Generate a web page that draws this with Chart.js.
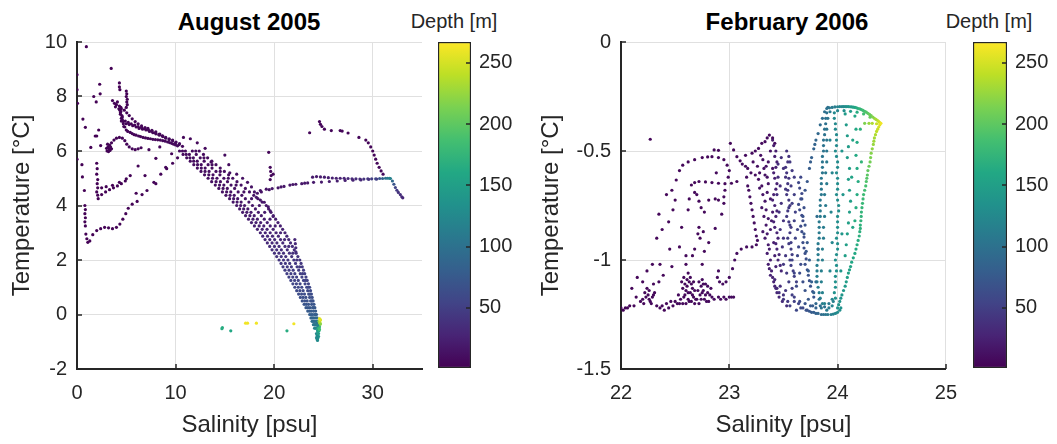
<!DOCTYPE html>
<html>
<head>
<meta charset="utf-8">
<title>T-S diagrams</title>
<script src="https://cdn.jsdelivr.net/npm/chart.js@4.4.1/dist/chart.umd.min.js"></script>
<style>
  body { margin: 0; background: #fff; width: 1057px; height: 444px; position: relative; overflow: hidden;
         font-family: "Liberation Sans", Arial, sans-serif; }
  canvas { position: absolute; top: 0; }
  .ttl { position: absolute; top: 8px; font-weight: bold; font-size: 24px; line-height: 28px; color: #000;
         transform: translateX(-50%); white-space: nowrap; }
  .cbt { position: absolute; top: 9px; font-size: 20px; line-height: 24px; color: #262626;
         transform: translateX(-50%); white-space: nowrap; }
</style>
</head>
<body>
<div class="ttl" style="left:249px">August 2005</div>
<div class="cbt" style="left:454px">Depth [m]</div>
<div class="ttl" style="left:787px">February 2006</div>
<div class="cbt" style="left:989px">Depth [m]</div>
<canvas id="aug" width="428" height="444" style="left:0px"></canvas>
<canvas id="augBar" width="90" height="444" style="left:437px"></canvas>
<canvas id="feb" width="440" height="444" style="left:529px"></canvas>
<canvas id="febBar" width="85" height="444" style="left:972px"></canvas>
<script>
// points are [salinity psu, temperature degC, depth m]

// August 2005
const augBandL = [
  [10.4,6.0,8],[10.76,5.875,8],[11.13,5.75,9],[11.49,5.625,9],[11.85,5.5,10],[12.21,5.375,10],[12.58,5.25,11],
  [12.94,5.125,11],[13.3,5.0,12],[13.66,4.875,12],[14.03,4.75,13],[14.39,4.625,13],[14.75,4.5,14],[15.11,4.375,15],
  [15.48,4.25,16],[15.84,4.125,17],[16.2,4.0,18],[16.5,3.875,19],[16.8,3.75,20],[17.1,3.625,21],[17.4,3.5,22],
  [17.7,3.375,24],[18.0,3.25,25],[18.3,3.125,27],[18.6,3.0,28],[18.84,2.875,30],[19.08,2.75,31],[19.31,2.625,33],
  [19.55,2.5,35],[19.79,2.375,36],[20.03,2.25,38],[20.26,2.125,40],[20.5,2.0,42],[20.7,1.875,44],[20.9,1.75,46],
  [21.1,1.625,48],[21.3,1.5,50],[21.5,1.375,52],[21.7,1.25,54],[21.9,1.125,56],[22.1,1.0,58],[22.29,0.875,60],
  [22.48,0.75,63],[22.66,0.625,65],[22.85,0.5,68],[23.04,0.375,71],[23.23,0.25,74],[23.41,0.125,77],[23.6,0.0,80],
  [23.73,-0.125,86],[23.85,-0.25,95],[23.98,-0.375,105],[24.1,-0.5,120]
];
const augBandL2 = [
  [10.7,6.0,8],[11.08,5.875,8],[11.46,5.75,9],[11.84,5.625,9],[12.23,5.5,10],[12.61,5.375,10],[12.99,5.25,11],
  [13.37,5.125,11],[13.75,5.0,12],[14.11,4.875,12],[14.46,4.75,13],[14.82,4.625,13],[15.18,4.5,14],[15.53,4.375,15],
  [15.89,4.25,16],[16.24,4.125,17],[16.6,4.0,18],[16.91,3.875,19],[17.23,3.75,20],[17.54,3.625,21],[17.85,3.5,22],
  [18.16,3.375,24],[18.48,3.25,25],[18.79,3.125,27],[19.1,3.0,28],[19.33,2.875,30],[19.56,2.75,31],[19.79,2.625,33],
  [20.03,2.5,35],[20.26,2.375,36],[20.49,2.25,38],[20.72,2.125,40],[20.95,2.0,42],[21.14,1.875,44],[21.33,1.75,46],
  [21.51,1.625,48],[21.7,1.5,50],[21.89,1.375,52],[22.08,1.25,54],[22.26,1.125,56],[22.45,1.0,58],[22.61,0.875,60],
  [22.78,0.75,63],[22.94,0.625,65],[23.1,0.5,68],[23.26,0.375,71],[23.43,0.25,74],[23.59,0.125,77],[23.75,0.0,80],
  [23.86,-0.125,86],[23.98,-0.25,95],[24.09,-0.375,105],[24.2,-0.5,120]
];
const augBandM = [
  [11.0,6.0,8],[11.8,5.75,9],[12.6,5.5,10],[13.4,5.25,11],[14.2,5.0,12],[14.9,4.75,13],[15.6,4.5,14],[16.3,4.25,16],
  [17.0,4.0,18],[17.65,3.75,20],[18.3,3.5,22],[18.95,3.25,25],[19.6,3.0,28],[20.05,2.75,31],[20.5,2.5,35],
  [20.95,2.25,38],[21.4,2.0,42],[21.75,1.75,46],[22.1,1.5,50],[22.45,1.25,54],[22.8,1.0,58],[23.08,0.75,63],
  [23.35,0.5,68],[23.63,0.25,74],[23.9,0.0,80],[24.1,-0.25,95],[24.3,-0.5,120],
  [11.4,5.875,8],[12.2,5.625,9],[13.0,5.375,10],[13.8,5.125,11],[14.55,4.875,12],[15.25,4.625,13],[15.95,4.375,15],
  [16.65,4.125,17],[17.33,3.875,19],[17.98,3.625,21],[18.63,3.375,24],[19.28,3.125,27],[19.83,2.875,30],[20.28,2.625,33],
  [20.73,2.375,36],[21.18,2.125,40],[21.58,1.875,44],[21.93,1.625,48],[22.28,1.375,52],[22.63,1.125,56],[22.94,0.875,60],
  [23.22,0.625,65],[23.49,0.375,71],[23.77,0.125,77],[24.0,-0.125,86],[24.2,-0.375,105],
  [11.7,6.0,8],[12.5,5.75,9],[13.3,5.5,10],[14.1,5.25,11],[14.9,5.0,12],[15.63,4.75,13],[16.35,4.5,14],[17.08,4.25,16],
  [17.8,4.0,18],[18.4,3.75,20],[19.0,3.5,22],[19.6,3.25,25],[20.2,3.0,28],[20.65,2.75,31],[21.1,2.5,35],
  [21.55,2.25,38],[22.0,2.0,42],[22.33,1.75,46],[22.65,1.5,50],[22.98,1.25,54],[23.3,1.0,58],[23.5,0.75,63],
  [23.7,0.5,68],[23.9,0.25,74],[24.1,0.0,80],[24.25,-0.25,100],
  [12.1,5.875,8],[12.9,5.625,9],[13.7,5.375,10],[14.5,5.125,11],[15.27,4.875,12],[15.99,4.625,13],[16.72,4.375,15],
  [17.44,4.125,17],[18.1,3.875,19],[18.7,3.625,21],[19.3,3.375,24],[19.9,3.125,27],[20.43,2.875,30],[20.88,2.625,33],
  [21.33,2.375,36],[21.78,2.125,40],[22.17,1.875,44],[22.49,1.625,48],[22.82,1.375,52],[23.14,1.125,56],[23.4,0.875,60],
  [23.6,0.625,65],[23.8,0.375,71],[24.0,0.125,77],[24.18,-0.125,88]
];
const augBandR = [
  [12.4,6.0,8],[12.83,5.875,8],[13.25,5.75,9],[13.68,5.625,9],[14.1,5.5,10],[14.53,5.375,10],[14.95,5.25,11],
  [15.38,5.125,11],[15.8,5.0,12],[16.23,4.875,12],[16.65,4.75,13],[17.08,4.625,13],[17.5,4.5,14],[17.93,4.375,15],
  [18.35,4.25,16],[18.78,4.125,17],[19.2,4.0,18],[19.44,3.875,19],[19.68,3.75,20],[19.91,3.625,21],[20.15,3.5,22],
  [20.39,3.375,24],[20.63,3.25,25],[20.86,3.125,27],[21.1,3.0,28],[21.29,2.875,30],[21.48,2.75,31],[21.66,2.625,33],
  [21.85,2.5,35],[22.04,2.375,36],[22.23,2.25,38],[22.41,2.125,40],[22.6,2.0,42],[22.73,1.875,44],[22.85,1.75,46],
  [22.98,1.625,48],[23.1,1.5,50],[23.23,1.375,52],[23.35,1.25,54],[23.48,1.125,56],[23.6,1.0,58],[23.69,0.875,60],
  [23.78,0.75,63],[23.86,0.625,65],[23.95,0.5,68],[24.04,0.375,71],[24.13,0.25,74],[24.21,0.125,77],[24.3,0.0,80],
  [24.35,-0.125,90],[24.4,-0.25,100],
  [12.05,6.0,8],[12.88,5.75,9],[13.7,5.5,10],[14.53,5.25,11],[15.35,5.0,12],[16.14,4.75,13],[16.93,4.5,14],
  [17.71,4.25,16],[18.5,4.0,18],[19.04,3.75,20],[19.58,3.5,22],[20.11,3.25,25],[20.65,3.0,28],[21.06,2.75,31],
  [21.48,2.5,35],[21.89,2.25,38],[22.3,2.0,42],[22.59,1.75,46],[22.88,1.5,50],[23.16,1.25,54],[23.45,1.0,58],
  [23.64,0.75,63],[23.83,0.5,68],[24.01,0.25,74],[24.2,0.0,80],
  [15.5,5.2,12],[16.2,5.15,12],[16.8,5.0,13],[17.3,4.85,13],[17.7,4.68,14],[18.0,4.5,15],[18.3,4.45,15],[18.7,4.5,15],
  [18.2,4.3,16],[18.6,4.2,17],[19.0,4.12,18],[19.4,3.95,19],[19.6,3.8,20],[19.9,3.6,21],
  [22.1,2.75,30],[22.15,2.6,32],[22.2,2.45,34],[22.2,2.3,36]
];
const augUpper = [
  [4.3,7.65,3],[4.35,7.5,3],[4.4,7.35,3],[4.5,7.2,4],[4.7,7.08,4],[5.0,7.0,4],[5.3,6.97,4],[5.65,6.93,5],[6.0,6.88,5],
  [6.3,6.83,5],[6.65,6.8,5],[7.0,6.77,5],[7.35,6.72,6],[7.7,6.67,6],[8.0,6.63,6],[8.35,6.58,6],[8.7,6.53,6],[9.0,6.47,7],
  [9.35,6.42,7],[9.7,6.38,7],[10.0,6.3,7],[10.35,6.23,8],[10.7,6.17,8],
  [4.7,7.0,4],[4.85,6.88,4],[5.0,6.77,4],[5.4,6.68,5],[5.8,6.6,5],[6.25,6.55,5],[6.7,6.5,5],[7.2,6.46,6],[7.7,6.43,6],
  [8.2,6.41,6],[8.7,6.38,6],[9.2,6.33,7],[9.6,6.28,7],[10.0,6.22,7],
  [4.8,7.5,3],[5.05,7.4,3],[5.3,7.3,4],[5.6,7.18,4],[5.9,7.08,4],[6.2,7.0,5],[6.55,6.92,5],[6.9,6.86,5],[7.2,6.83,5],
  [7.6,6.76,6],[8.0,6.7,6],[8.4,6.62,6],[8.7,6.55,6],
  [4.6,7.25,4],[4.9,7.1,4],[5.2,7.05,4],[5.5,7.0,4],[5.85,6.95,5],[6.2,6.9,5],[6.55,6.86,5],[6.9,6.82,5],[7.25,6.77,6],
  [7.6,6.72,6],[7.95,6.67,6],[8.3,6.61,6],[8.65,6.56,6],[9.0,6.5,7],[9.35,6.45,7],[9.7,6.4,7],[10.05,6.33,7],[10.4,6.27,8],
  [4.4,7.4,3],[4.5,7.1,4],[4.75,6.9,4],[5.15,6.72,4],[5.6,6.64,5],[6.0,6.58,5],[6.45,6.53,5],[6.95,6.48,5],[7.45,6.45,6],
  [7.95,6.42,6],[8.45,6.4,6],[8.95,6.36,7],[9.4,6.31,7],[9.8,6.25,7],[10.2,6.19,8],
  [4.45,7.45,3],[4.55,7.3,3],[4.6,7.15,4],[4.25,7.55,3],[4.45,7.6,3],
  [5.0,8.2,2],[5.05,8.1,2],[5.0,8.0,2],[5.1,7.9,3],[5.05,7.8,3],[5.1,7.7,3],[5.0,7.6,3],
  [4.3,8.5,2],[4.3,8.35,2],[4.35,8.25,2],[3.6,7.85,3],[3.8,7.75,3],[4.0,7.7,3],[3.9,7.62,3],[4.1,7.8,3],[4.5,7.55,3],
  [3.0,6.1,3],[3.05,6.0,3],[3.2,5.98,3],[3.35,6.02,3],[3.5,6.08,3],[3.15,6.15,3],[3.3,6.22,3],[3.5,6.3,3],[3.75,6.4,3],
  [4.0,6.47,3],[4.3,6.5,3],[4.6,6.47,4],[4.85,6.38,4],[5.05,6.25,4],[5.3,6.15,4],[5.6,6.08,4],[5.9,6.05,4],[6.2,6.08,5],
  [6.5,6.12,5],[3.1,6.25,3],[3.25,6.08,3],[3.4,6.15,3]
];
const augWest = [
  [0.0,8.8,2],[0.0,8.25,2],[0.05,7.75,2],[0.95,9.83,2],[3.47,9.03,2],[2.3,8.45,2],[2.35,8.1,2],[1.7,8.0,2],[1.95,7.8,2],
  [0.6,7.17,2],[0.85,6.87,2],[1.85,6.55,2],[1.4,6.13,2],[0.0,5.7,2],[2.2,6.77,2],[2.0,6.55,2],[2.4,6.2,3],
  [0.5,5.5,2],[0.55,5.05,2],[0.75,4.55,2],[0.8,4.0,2],[0.85,3.85,2],[0.8,3.7,2],[0.85,3.55,2],[0.8,3.4,2],[0.85,3.25,2],
  [0.9,2.95,2],[1.0,2.78,2],[1.1,2.65,2],[1.3,2.7,2],[1.6,2.93,2],[2.0,3.08,2],[2.4,3.15,2],[2.8,3.2,2],[3.2,3.18,3],
  [3.6,3.15,3],[4.0,3.2,3],[4.35,3.32,3],[4.65,3.5,3],[4.95,3.7,3],[5.2,3.9,3],[5.6,4.05,3],[6.1,4.15,3],[6.6,4.4,3],
  [7.1,4.55,4],[7.8,4.85,4],[8.5,5.15,4],[9.1,5.35,4],[9.7,5.55,4],[10.2,5.75,5],
  [2.0,5.55,2],[2.05,5.35,2],[2.0,5.15,2],[2.1,4.95,2],[2.05,4.8,2],[2.1,4.65,2],[2.0,4.5,2],[2.1,4.38,2],[2.15,4.25,2],
  [2.5,4.4,2],[2.9,4.5,2],[3.3,4.58,2],[3.7,4.65,2],[4.1,4.72,3],[4.5,4.8,3],[4.9,4.9,3],
  [2.5,4.65,2],[2.96,4.69,2],[3.6,4.74,2],[4.3,4.85,3],[5.0,4.98,3],[5.4,5.1,3],
  [6.2,5.45,3],[8.0,5.73,4],[9.0,5.4,4],[6.9,5.1,3],[6.0,4.45,3],[8.0,4.8,4],[9.6,5.9,4],[8.4,6.15,5],[7.3,6.05,5],
  [10.8,6.5,6],[11.5,6.45,7],[12.2,6.3,7],[13.0,6.1,8],[15.0,5.85,9],[15.4,5.5,9],[13.6,5.6,8]
];
const augEast = [
  [18.6,4.55,15],[19.2,4.6,15],[19.8,4.62,16],[20.4,4.65,16],[21.0,4.7,17],[21.6,4.75,17],[22.2,4.78,18],[22.8,4.8,18],
  [23.4,4.83,19],[24.0,4.85,20],[19.5,4.58,15],[20.7,4.68,16],[21.9,4.77,17],[23.1,4.82,18],
  [23.9,5.04,20],[24.3,5.06,20],[24.7,5.05,21],[25.1,5.04,22],[25.5,5.02,23],[25.9,5.01,24],[26.3,5.0,25],[26.7,5.0,26],
  [27.1,5.0,28],[27.5,4.99,30],[27.9,4.98,32],[28.3,4.98,34],[28.7,4.97,37],[29.1,4.97,40],[29.5,4.98,44],[29.9,4.98,50],
  [30.3,4.98,58],[30.7,4.99,70],[31.0,4.99,85],[31.3,5.0,100],[31.5,5.0,110],[31.7,5.0,115],[31.8,4.99,118],
  [24.8,4.86,20],[25.6,4.88,21],[26.4,4.9,23],[27.2,4.92,25],[28.0,4.93,28],[28.8,4.94,32],[29.6,4.96,38],[30.4,4.97,50],
  [32.0,4.9,90],[32.15,4.78,70],[32.3,4.66,55],[32.45,4.56,45],[32.6,4.48,40],[32.8,4.4,36],[32.95,4.32,33],[33.05,4.28,30],
  [29.3,6.4,5],[29.55,6.3,5],[29.8,6.15,5],[30.0,6.0,5],[30.15,5.85,5],[30.3,5.7,6],[30.45,5.55,6],[30.65,5.4,6],
  [30.85,5.27,7],[31.05,5.15,8],
  [24.6,7.08,4],[24.7,6.98,4],[24.85,6.9,4],[25.1,6.8,4],[25.8,6.75,4],[26.7,6.75,4],[26.9,6.73,4],[27.5,6.66,4],
  [28.6,6.5,5],[23.6,6.67,4],
  [19.45,5.95,5],[19.6,5.4,6],[19.65,5.25,6],[19.7,5.1,6],[19.6,4.95,7],[19.9,5.15,6]
];
const augDeep = [
  [24.3,-0.7,120],[24.4,-0.8,135],[24.35,-0.9,130],[24.4,-0.95,128],[24.5,-0.7,140],[24.4,-0.6,150],[24.45,-0.5,155],
  [24.5,-0.55,165],[24.55,-0.4,170],[24.6,-0.45,180],[24.5,-0.35,200],[24.6,-0.3,230],[24.7,-0.2,250],[24.6,-0.15,255],
  [24.35,-0.3,100],[24.4,-0.4,115],[24.45,-0.6,145],[24.5,-0.8,140],[24.45,-0.85,135],[24.4,-0.9,130],[24.55,-0.25,210],
  [24.65,-0.3,240],[24.65,-0.2,255],[24.7,-0.35,220],[24.55,-0.6,160],[24.35,-0.75,125],[24.3,-0.85,125],
  [24.45,-0.7,150],[24.55,-0.5,175],[24.6,-0.55,185],
  [14.75,-0.48,165],[14.7,-0.52,165],[15.6,-0.6,160],[17.1,-0.32,262],[17.3,-0.32,262],[18.2,-0.32,262],
  [21.3,-0.6,165],[22.0,-0.34,262]
];

// February 2006
const febShelf = [
  [22.0,-1.22,5],[22.04,-1.22,5],[22.08,-1.21,5],[22.12,-1.21,5],[22.2,-1.18,6],[22.22,-1.15,6],[22.25,-1.16,6],
  [22.27,-1.19,6],[22.29,-1.17,6],[22.31,-1.15,6],[22.24,-1.13,6],[22.28,-1.2,6],[22.36,-1.22,6],[22.4,-1.23,6],
  [22.44,-1.22,6],[22.48,-1.21,7],[22.52,-1.2,7],
  [22.57,-1.2,7],[22.58,-1.17,7],[22.6,-1.14,7],[22.59,-1.11,7],[22.61,-1.09,7],[22.62,-1.06,7],[22.63,-1.1,7],
  [22.64,-1.15,7],[22.65,-1.19,7],[22.66,-1.13,7],[22.67,-1.17,7],[22.68,-1.2,7],[22.6,-1.2,7],[22.55,-1.18,7],
  [22.62,-1.18,7],[22.72,-1.2,8],[22.73,-1.16,8],[22.74,-1.12,8],[22.75,-1.09,8],[22.76,-1.14,8],[22.77,-1.18,8],
  [22.78,-1.11,8],[22.8,-1.15,8],[22.81,-1.19,8],[22.83,-1.13,8],[22.84,-1.17,8],[22.7,-1.18,8],
  [22.56,-1.1,7],[22.57,-1.13,7],[22.58,-1.08,7],[22.59,-1.16,7],[22.61,-1.12,7],[22.62,-1.15,7],[22.63,-1.19,7],
  [22.64,-1.08,7],[22.65,-1.11,7],[22.66,-1.16,7],[22.67,-1.1,7],[22.68,-1.14,7],[22.69,-1.18,7],[22.71,-1.14,8],
  [22.72,-1.1,8],[22.74,-1.18,8],[22.75,-1.15,8],[22.76,-1.11,8],[22.78,-1.16,8],[22.79,-1.19,8],[22.8,-1.12,8],
  [22.82,-1.16,8],[22.53,-1.16,7],[22.54,-1.2,7],[22.46,-1.19,7],[22.42,-1.2,6],[22.38,-1.21,6],[22.33,-1.21,6],
  [22.3,-1.16,6],[22.26,-1.18,6],[22.23,-1.17,6],[22.21,-1.2,6],[22.18,-1.19,6],[22.26,-1.14,6],[22.06,-1.22,5],
  [22.02,-1.23,5],[22.92,-1.18,8],[22.97,-1.18,8],[23.02,-1.17,9],
  [22.86,-1.18,8],[22.9,-1.17,8],[22.95,-1.17,8],[23.0,-1.17,9],[23.04,-1.17,9],[22.5,-1.19,7],
  [22.9,-1.05,9],[22.89,-1.08,9],[22.91,-1.1,9],[22.94,-1.11,9],[22.97,-1.1,9],[23.0,-1.08,9],[23.03,-1.04,9],
  [23.05,-1.0,10],[23.07,-0.97,10],[23.11,-0.95,10],[23.16,-0.94,10],[23.21,-0.94,10],[23.25,-0.93,11],
  [22.29,-1.02,6],[22.36,-1.02,6],[22.47,-1.03,7],[22.39,-1.07,6],[22.35,-1.1,6],[22.3,-1.11,6],[22.6,-1.02,7],
  [22.14,-1.17,5],[22.1,-1.13,5],[22.2,-1.1,5]
];
const febArches = [
  [22.27,-0.446,5],
  [22.51,-0.633,6],[22.54,-0.59,6],[22.57,-0.565,6],[22.62,-0.55,6],[22.68,-0.54,6],[22.75,-0.53,6],[22.8,-0.527,6],
  [22.84,-0.526,6],[22.9,-0.53,7],[22.95,-0.54,7],[22.98,-0.565,7],[23.0,-0.59,7],
  [22.86,-0.495,7],[22.9,-0.497,7],[23.01,-0.465,7],[23.04,-0.495,7],[23.07,-0.526,7],[23.1,-0.545,8],
  [23.15,-0.52,8],[23.21,-0.51,8],[23.27,-0.488,8],[23.3,-0.465,8],[23.33,-0.457,8],[23.37,-0.427,8],[23.4,-0.44,8],
  [23.42,-0.465,9],[23.35,-0.44,8],[23.24,-0.5,8],
  [22.65,-0.656,6],[22.68,-0.645,6],[22.72,-0.64,6],[22.78,-0.642,6],[22.84,-0.645,7],[22.9,-0.648,7],[22.96,-0.65,7],
  [23.02,-0.648,7],[23.07,-0.64,7],
  [22.5,-0.725,6],[22.48,-0.77,6],[22.44,-0.825,6],[22.38,-0.86,6],[22.33,-0.9,6],[22.47,-0.68,6],
  [22.62,-0.77,7],[22.63,-0.72,7],[22.68,-0.69,7],[22.7,-0.7,7],[22.72,-0.73,7],[22.74,-0.76,7],[22.77,-0.78,7],
  [22.81,-0.725,7],[22.87,-0.72,7],[22.9,-0.725,7],[22.95,-0.74,8],[22.96,-0.68,8],[22.95,-0.71,8],[22.93,-0.79,8],
  [22.72,-0.85,7],[22.71,-0.88,7],[22.73,-0.9,7],[22.76,-0.87,7],[22.81,-0.92,7],[22.87,-0.855,8],[22.77,-0.96,7],
  [22.68,-0.95,7],[22.56,-0.85,6],[22.54,-0.94,6],[22.66,-0.98,7],[22.75,-1.02,7],[22.6,-0.98,7],[22.45,-0.95,6],
  [22.24,-1.05,6],[22.15,-1.08,5],[22.42,-0.7,6],[22.35,-0.79,6],[22.99,-0.62,8],[22.88,-0.6,8]
];
const febColumn = [
  [23.15,-0.57,10],[23.16,-0.62,10],[23.17,-0.66,10],[23.19,-0.71,11],[23.2,-0.74,11],[23.21,-0.77,11],[23.22,-0.8,11],
  [23.23,-0.83,11],[23.24,-0.86,11],[23.25,-0.89,12],[23.26,-0.91,12],[23.18,-0.68,10],
  [23.12,-0.56,10],[23.17,-0.58,10],[23.2,-0.6,11],[23.24,-0.61,11],[23.26,-0.57,11],[23.22,-0.55,11],[23.28,-0.6,12],
  [23.27,-0.63,12],[23.3,-0.66,13],[23.32,-0.58,13],[23.35,-0.62,14],[23.36,-0.55,14],[23.38,-0.5,14],[23.4,-0.58,15],
  [23.28,-0.67,15],[23.31,-0.7,16],[23.33,-0.73,17],[23.3,-0.76,17],[23.32,-0.8,18],[23.34,-0.84,19],[23.31,-0.87,19],
  [23.33,-0.9,20],[23.36,-0.93,21],[23.35,-0.97,22],[23.38,-1.0,23],[23.37,-1.04,24],[23.4,-1.08,26],[23.42,-1.12,28],
  [23.44,-1.15,30],[23.46,-1.17,32],[23.49,-1.19,34],[23.53,-1.21,36],
  [23.38,-0.72,18],[23.4,-0.78,20],[23.38,-0.86,21],[23.41,-0.92,22],[23.42,-0.98,24],[23.43,-1.03,26],[23.39,-0.82,20],
  [23.36,-0.65,16],
  [23.29,-0.52,12],[23.31,-0.54,13],[23.34,-0.57,14],[23.33,-0.61,14],[23.35,-0.69,16],[23.34,-0.77,18],[23.36,-0.81,19],
  [23.35,-0.88,20],[23.37,-0.95,22],[23.36,-1.02,23],[23.39,-1.05,25],[23.41,-1.1,27],[23.43,-1.13,29],
  [23.4,-0.45,22],[23.41,-0.475,22],[23.43,-0.5,23],[23.42,-0.525,23],[23.44,-0.55,23],[23.43,-0.575,24],[23.41,-0.6,24],
  [23.42,-0.625,24],[23.44,-0.65,25],[23.43,-0.675,25],[23.41,-0.7,25],[23.4,-0.725,26],[23.42,-0.75,26],[23.44,-0.775,26],
  [23.43,-0.8,27],[23.41,-0.825,27],[23.42,-0.85,27],[23.44,-0.875,28],[23.45,-0.9,28],[23.43,-0.925,28],[23.44,-0.95,29],
  [23.46,-0.975,29],[23.45,-1.0,29],[23.47,-1.025,30],[23.48,-1.05,30]
];
const febMid = [
  [23.45,-0.62,35],[23.47,-0.66,36],[23.44,-0.7,36],[23.48,-0.74,38],[23.46,-0.78,38],[23.5,-0.82,40],[23.47,-0.86,40],
  [23.5,-0.9,42],[23.49,-0.94,42],[23.52,-0.98,44],[23.5,-1.02,44],[23.53,-1.06,46],[23.55,-1.1,48],[23.58,-1.13,50],
  [23.6,-1.17,52],[23.64,-1.2,55],[23.68,-1.22,58],[23.72,-1.23,62],
  [23.53,-0.5,40],[23.55,-0.525,40],[23.54,-0.55,41],[23.52,-0.575,41],[23.53,-0.6,42],[23.55,-0.625,42],[23.54,-0.65,43],
  [23.52,-0.675,43],[23.53,-0.7,44],[23.55,-0.725,44],[23.56,-0.75,45],[23.54,-0.775,45],[23.53,-0.8,46],[23.55,-0.825,46],
  [23.57,-0.85,47],[23.56,-0.875,47],[23.54,-0.9,48],[23.55,-0.925,48],[23.57,-0.95,49],[23.58,-0.975,49],[23.56,-1.0,50],
  [23.57,-1.025,50],[23.59,-1.05,51],[23.6,-1.075,51],[23.62,-1.1,52],
  [23.56,-0.55,45],[23.58,-0.59,46],[23.6,-0.62,48],[23.57,-0.66,48],[23.6,-0.7,50],[23.58,-0.74,50],[23.61,-0.78,52],
  [23.6,-0.82,52],[23.63,-0.86,55],[23.61,-0.9,55],[23.64,-0.94,58],[23.63,-0.98,58],[23.66,-1.02,62],[23.65,-1.06,62],
  [23.68,-1.1,66],[23.7,-1.14,70],[23.73,-1.18,74],[23.77,-1.21,78],
  [23.66,-0.62,58],[23.64,-0.645,58],[23.65,-0.67,59],[23.67,-0.695,59],[23.66,-0.72,60],[23.64,-0.745,60],[23.65,-0.77,61],
  [23.67,-0.795,61],[23.68,-0.82,62],[23.66,-0.845,62],[23.67,-0.87,63],[23.69,-0.895,63],[23.68,-0.92,64],[23.69,-0.945,64],
  [23.7,-0.97,65],[23.71,-0.995,66],[23.7,-1.02,66],[23.72,-1.045,67],[23.73,-1.07,68],[23.74,-1.095,68],[23.75,-1.12,69],
  [23.77,-1.145,70],[23.78,-1.17,70],
  [23.67,-0.72,65],[23.69,-0.76,66],[23.68,-0.8,68],[23.7,-0.84,70],[23.69,-0.88,70],[23.72,-0.92,74],[23.71,-0.96,74],
  [23.74,-1.0,78],[23.73,-1.05,78],[23.76,-1.1,82],[23.78,-1.15,86],[23.8,-1.2,90],
  [23.7,-0.68,70],[23.72,-0.64,74],[23.74,-0.58,78],[23.76,-0.53,82],[23.78,-0.49,85],[23.8,-0.45,88],[23.82,-0.42,90],
  [23.84,-0.38,92],[23.86,-0.35,95],[23.88,-0.32,98],[23.79,-0.47,86],[23.75,-0.55,80],
  [23.52,-0.62,40],[23.54,-0.68,44],[23.55,-0.76,46],[23.56,-0.84,48],[23.57,-0.92,50],[23.58,-1.0,54],[23.6,-1.06,56],
  [23.62,-1.12,60],[23.45,-0.56,35],[23.5,-0.58,40],[23.48,-0.53,38],
  [23.38,-1.07,28],[23.44,-1.13,32],[23.5,-1.16,40],[23.56,-1.21,50],[23.62,-1.23,58],[23.71,-1.23,70],[23.8,-1.245,85],
  [23.85,-1.25,95],[23.89,-1.25,105],[23.94,-1.25,115],[23.98,-1.245,125],[24.03,-1.22,135],[23.6,-1.19,52],
  [23.66,-1.22,60],[23.76,-1.24,78],
  [23.74,-1.235,74],[23.78,-1.24,80],[23.82,-1.245,88],[23.87,-1.25,100],[23.91,-1.25,108],[23.96,-1.248,118],
  [24.0,-1.24,128],[24.02,-1.23,132],[23.7,-1.2,70],[23.75,-1.21,76],[23.8,-1.22,84],[23.84,-1.21,92],[23.88,-1.215,100],
  [23.92,-1.2,108],[23.96,-1.19,116],[23.65,-1.19,60],[23.58,-1.16,50],[23.52,-1.14,42],[23.47,-1.12,36],[23.42,-1.09,30],
  [23.54,-1.19,46],[23.5,-1.18,42],[23.46,-1.15,36]
];
const febTeal = [
  [23.91,-0.3,98],[23.9,-0.325,99],[23.89,-0.35,99],[23.89,-0.375,100],[23.88,-0.4,100],[23.88,-0.425,101],[23.87,-0.45,101],
  [23.87,-0.475,102],[23.87,-0.5,102],[23.86,-0.525,103],[23.86,-0.55,103],[23.86,-0.575,104],[23.86,-0.6,104],
  [23.85,-0.625,105],[23.85,-0.65,105],[23.85,-0.675,106],[23.85,-0.7,106],[23.84,-0.725,107],[23.84,-0.75,107],
  [23.84,-0.775,108],[23.84,-0.8,108],[23.83,-0.825,109],[23.83,-0.85,109],[23.83,-0.875,110],[23.83,-0.9,110],
  [23.82,-0.925,111],[23.82,-0.95,111],[23.82,-0.975,112],[23.82,-1.0,112],[23.81,-1.025,113],[23.81,-1.05,113],
  [23.81,-1.075,114],[23.81,-1.1,114],[23.82,-1.125,115],[23.83,-1.15,115],[23.84,-1.175,116],[23.86,-1.2,116],
  [23.9,-0.55,108],[23.89,-0.6,108],[23.9,-0.65,110],[23.88,-0.7,110],[23.89,-0.75,110],[23.88,-0.8,112],[23.87,-0.85,112],
  [23.87,-0.9,112],[23.86,-0.95,114],[23.86,-1.0,114],[23.85,-1.05,115],[23.85,-1.1,115],[23.86,-1.15,116],[23.88,-1.2,118],
  [23.9,-0.5,106],[23.9,-0.45,105],[23.9,-0.4,104],[23.91,-0.35,103],
  [23.97,-0.35,125],[23.98,-0.4,126],[23.99,-0.45,127],[23.98,-0.5,128],[24.0,-0.55,128],[23.99,-0.6,129],[24.0,-0.65,130],
  [23.99,-0.7,130],[24.01,-0.75,131],[24.0,-0.8,131],[24.0,-0.85,132],[23.99,-0.9,132],[24.0,-0.95,133],[23.98,-1.0,133],
  [23.99,-1.05,134],[23.98,-1.1,134],[23.97,-1.15,135],
  [23.97,-0.325,125],[23.98,-0.375,126],[23.99,-0.425,127],[23.99,-0.475,127],[23.99,-0.525,128],[24.0,-0.575,128],
  [24.0,-0.625,129],[24.0,-0.675,130],[24.0,-0.725,130],[24.01,-0.775,131],[24.0,-0.825,131],[24.0,-0.875,132],
  [24.0,-0.925,132],[23.99,-0.975,133],[23.99,-1.025,133],[23.98,-1.075,134],[23.98,-1.125,134],[23.98,-1.175,135],
  [24.07,-0.33,145],[24.08,-0.38,145],[24.09,-0.43,146],[24.1,-0.48,146],[24.09,-0.53,147],[24.11,-0.58,147],
  [24.1,-0.63,148],[24.11,-0.68,148],[24.12,-0.73,149],[24.11,-0.78,149],[24.1,-0.83,150],[24.09,-0.88,150],
  [24.08,-0.93,150],[24.07,-0.98,150],
  [24.16,-0.34,160],[24.17,-0.4,161],[24.18,-0.46,162],[24.17,-0.52,162],[24.18,-0.58,163],[24.19,-0.64,164],
  [24.18,-0.7,164],[24.17,-0.76,165],[24.16,-0.82,165],
  [23.93,-0.45,115],[23.95,-0.6,120],[23.94,-0.78,120],[23.95,-0.92,122],[23.93,-1.05,120],[24.04,-0.5,138],
  [24.05,-0.7,140],[24.04,-0.88,140],[24.03,-1.05,140],[24.14,-0.45,155],[24.13,-0.62,155],[24.14,-0.85,156],
  [24.21,-0.4,170],[24.22,-0.55,175],[23.95,-1.18,120],[23.92,-1.22,112],[23.83,-1.18,100],[23.8,-1.1,96],
  [23.82,-0.95,98],[23.81,-0.8,96],[23.85,-1.22,105],[23.9,-1.23,110],[23.95,-1.21,120]
];
const febRim = [
  [24.0,-1.22,135],[24.02,-1.19,137],[24.04,-1.16,140],[24.07,-1.12,145],[24.09,-1.08,150],[24.11,-1.045,154],
  [24.13,-1.01,158],[24.16,-0.97,161],[24.18,-0.93,165],[24.2,-0.89,168],[24.21,-0.855,170],[24.215,-0.82,172],
  [24.22,-0.78,175],[24.23,-0.74,178],[24.24,-0.7,182],[24.26,-0.66,188],[24.27,-0.625,195],[24.28,-0.59,202],
  [24.3,-0.55,210],[24.31,-0.51,218],[24.33,-0.47,225],[24.34,-0.44,230],[24.36,-0.41,240],[24.38,-0.39,250],
  [24.01,-1.205,136],[24.03,-1.175,138],[24.055,-1.14,142],[24.08,-1.1,148],[24.1,-1.06,152],[24.12,-1.03,156],
  [24.145,-0.99,160],[24.17,-0.95,163],[24.19,-0.91,166],[24.205,-0.87,169],[24.21,-0.84,171],[24.218,-0.8,173],
  [24.225,-0.76,176],[24.235,-0.72,180],[24.25,-0.68,185],[24.265,-0.64,192],[24.275,-0.61,198],[24.29,-0.57,206],
  [24.305,-0.53,214],[24.32,-0.49,222],[24.335,-0.455,228],[24.35,-0.425,235],[24.37,-0.4,245],[24.39,-0.38,255],
  [23.9,-0.305,100],[23.95,-0.3,110],[24.0,-0.297,118],[24.04,-0.296,125],[24.07,-0.296,132],[24.1,-0.296,140],
  [24.13,-0.298,150],[24.16,-0.3,160],[24.19,-0.305,170],[24.22,-0.31,180],[24.25,-0.318,190],[24.28,-0.327,200],
  [24.31,-0.338,212],[24.34,-0.35,225],[24.37,-0.36,240],[24.39,-0.37,255],
  [23.925,-0.302,105],[23.975,-0.298,114],[24.02,-0.296,122],[24.055,-0.296,128],[24.085,-0.296,136],[24.115,-0.297,145],
  [24.145,-0.299,155],[24.175,-0.302,165],[24.205,-0.307,175],[24.235,-0.314,185],[24.265,-0.322,195],[24.295,-0.332,206],
  [24.325,-0.344,218],[24.355,-0.355,232],[24.38,-0.365,248],
  [23.93,-0.32,108],[24.0,-0.315,120],[24.06,-0.315,132],[24.12,-0.318,148],[24.18,-0.322,165],[24.24,-0.33,185],
  [24.3,-0.345,205],
  [24.25,-0.373,215],[24.29,-0.373,225],[24.32,-0.373,235],[24.36,-0.375,245],[24.4,-0.373,262]
];

const augPoints = [].concat(augWest, augUpper, augEast, augBandL, augBandL2, augBandM, augBandR, augDeep);
const febPoints = [].concat(febShelf, febArches, febColumn, febMid, febTeal, febRim);

const DEPTH_MIN = 1;
const DEPTH_MAX = 267;
const depthTicks = [50, 100, 150, 200, 250];

const viridisStops = [
  [68,1,84],[72,36,117],[65,68,135],[53,95,141],[42,120,142],[33,145,140],
  [34,168,132],[68,191,112],[122,209,81],[189,223,38],[253,231,37]
];
function viridis(d) {
  let t = (d - DEPTH_MIN) / (DEPTH_MAX - DEPTH_MIN);
  t = Math.max(0, Math.min(1, t)) * 10;
  const i = Math.min(9, Math.floor(t));
  const f = t - i;
  const a = viridisStops[i], b = viridisStops[i + 1];
  const c = a.map((v, k) => Math.round(v + (b[k] - v) * f));
  return `rgb(${c[0]},${c[1]},${c[2]})`;
}

const FONT = '"Liberation Sans", Arial, sans-serif';
const INK = '#262626';

// small inward tick marks like the original axes
const tickMarks = {
  id: 'tickMarks',
  afterDatasetsDraw(chart) {
    const { ctx, chartArea: a } = chart;
    ctx.save();
    ctx.strokeStyle = INK;
    ctx.lineWidth = 1.5;
    ctx.beginPath();
    for (const key of Object.keys(chart.scales)) {
      const sc = chart.scales[key];
      if (!sc.options.display) continue;
      sc.ticks.forEach(t => {
        const p = Math.round(sc.getPixelForValue(t.value));
        if (sc.isHorizontal()) { ctx.moveTo(p, a.bottom); ctx.lineTo(p, a.bottom - 5); }
        else if (sc.position === 'left') { ctx.moveTo(a.left, p); ctx.lineTo(a.left + 5, p); }
        else { ctx.moveTo(a.right, p); ctx.lineTo(a.right - 5, p); }
      });
    }
    ctx.stroke();
    ctx.restore();
  }
};

function tsChart(id, points, xr, yr, yWidth, padRight) {
  return new Chart(document.getElementById(id), {
    type: 'scatter',
    data: {
      datasets: [{
        data: points.map(p => ({ x: p[0], y: p[1] })),
        pointBackgroundColor: points.map(p => viridis(p[2])),
        pointBorderWidth: 0,
        pointRadius: 1.6
      }]
    },
    options: {
      responsive: false,
      animation: false,
      events: [],
      layout: { padding: { top: 42, right: padRight, left: 0, bottom: 0 } },
      plugins: { legend: { display: false }, tooltip: { enabled: false } },
      scales: {
        x: {
          type: 'linear', min: xr[0], max: xr[1],
          ticks: { stepSize: xr[2], includeBounds: false, padding: 12, color: INK, maxRotation: 0,
                   font: { family: FONT, size: 20 }, callback: v => String(v) },
          grid: { color: '#e0e0e0', drawTicks: false },
          border: { color: INK, width: 2 },
          title: { display: true, text: 'Salinity [psu]', color: INK, font: { family: FONT, size: 24 },
                   padding: { top: 0, bottom: 4 } },
          afterFit(s) { s.height = 75; }
        },
        y: {
          type: 'linear', min: yr[0], max: yr[1],
          ticks: { stepSize: yr[2], includeBounds: false, padding: 10, color: INK,
                   font: { family: FONT, size: 20 }, callback: v => String(v) },
          grid: { color: '#e0e0e0', drawTicks: false },
          border: { color: INK, width: 2 },
          title: { display: true, text: 'Temperature [°C]', color: INK, font: { family: FONT, size: 24 },
                   padding: { top: 8, bottom: 0 } },
          afterFit(s) { s.width = yWidth; }
        }
      }
    },
    plugins: [tickMarks]
  });
}

function colorBar(id, yWidth) {
  return new Chart(document.getElementById(id), {
    type: 'bar',
    data: {
      labels: [''],
      datasets: [{
        data: [[DEPTH_MIN, DEPTH_MAX]],
        backgroundColor(c) {
          const chart = c.chart;
          if (!chart.chartArea) return viridis(DEPTH_MIN);
          const ys = chart.scales.y;
          const g = chart.ctx.createLinearGradient(0, ys.getPixelForValue(DEPTH_MIN), 0, ys.getPixelForValue(DEPTH_MAX));
          viridisStops.forEach((s, i) => g.addColorStop(i / 10, `rgb(${s[0]},${s[1]},${s[2]})`));
          return g;
        },
        borderColor: INK,
        borderWidth: 1.5,
        borderSkipped: false,
        barPercentage: 1,
        categoryPercentage: 1
      }]
    },
    options: {
      responsive: false,
      animation: false,
      events: [],
      layout: { padding: { top: 42, bottom: 76, left: 1, right: 0 } },
      plugins: { legend: { display: false }, tooltip: { enabled: false } },
      scales: {
        x: { display: false },
        y: {
          position: 'right', min: DEPTH_MIN, max: DEPTH_MAX,
          afterBuildTicks(s) { s.ticks = depthTicks.map(v => ({ value: v })); },
          ticks: { padding: 8, color: INK, font: { family: FONT, size: 20 } },
          grid: { display: false, drawTicks: false },
          border: { display: false },
          afterFit(s) { s.width = yWidth; }
        }
      }
    },
    plugins: [tickMarks]
  });
}

tsChart('aug', augPoints, [0, 35, 10], [-2, 10, 2], 77, 6);
colorBar('augBar', 56);
tsChart('feb', febPoints, [22, 25, 1], [-1.5, 0, 0.5], 92, 16);
colorBar('febBar', 50);
</script>
</body>
</html>
